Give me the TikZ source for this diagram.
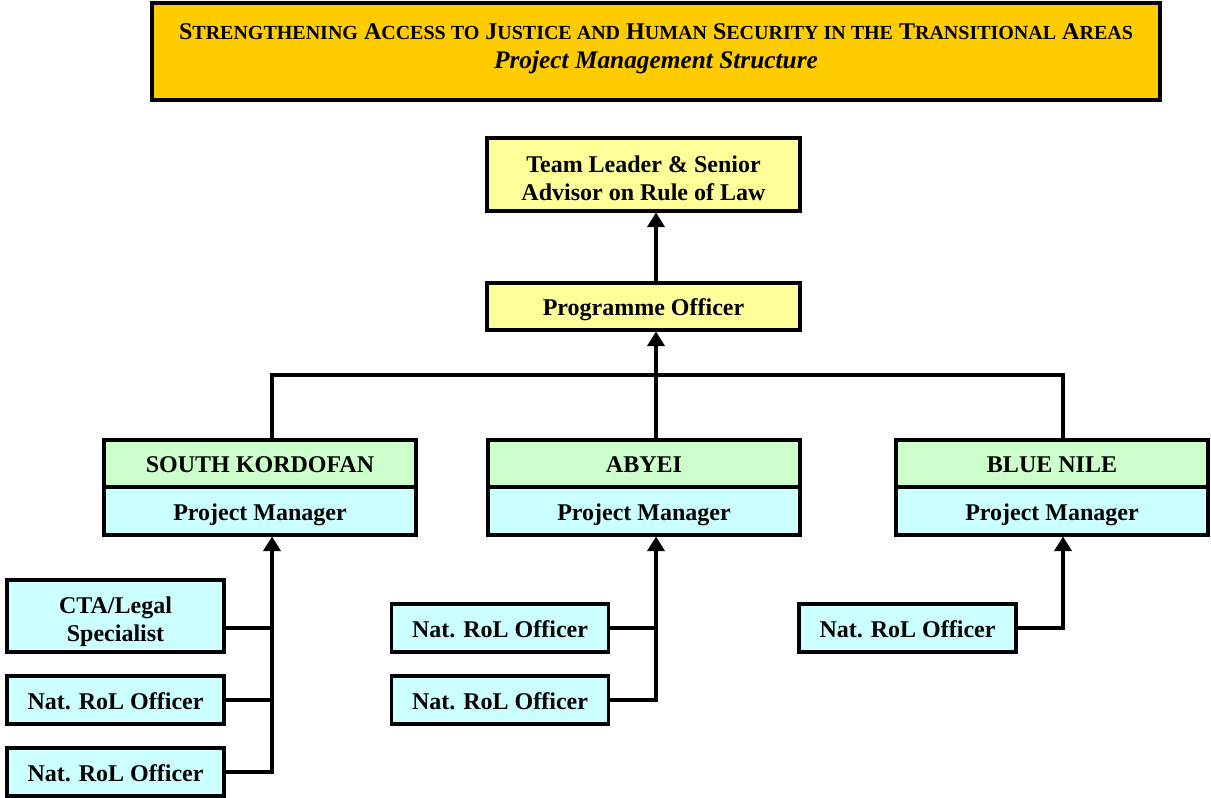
\documentclass[tikz,border=0pt]{standalone}
\usepackage{fontspec}
\setmainfont{Liberation Serif}
\usetikzlibrary{arrows.meta}

\definecolor{titlegold}{HTML}{FFCC00}
\definecolor{paleyellow}{HTML}{FFFF99}
\definecolor{palegreen}{HTML}{CCFFCC}
\definecolor{palecyan}{HTML}{CCFFFF}

\newcommand\fakesc[2]{#1{\fontsize{15}{22}\selectfont #2}}

\tikzset{every picture/.style={line width=2.3pt},
  boxbase/.style={draw, rectangle, inner sep=0pt, align=center,
    font=\fontsize{18}{21}\selectfont\bfseries},
  oneline/.style={text height=15pt, text depth=0.8pt},
  titlebox/.style={boxbase, fill=titlegold, minimum width=756pt, minimum height=72.75pt},
  yellowbox/.style={boxbase, fill=paleyellow, minimum width=234.75pt},
  greenbox/.style={boxbase, oneline, fill=palegreen, minimum width=234pt, minimum height=35.25pt},
  cyanbox/.style={boxbase, fill=palecyan},
  pmbox/.style={cyanbox, oneline, minimum width=234pt, minimum height=36pt},
  staffbox/.style={cyanbox, minimum width=162.75pt, minimum height=36pt},
  uparrow/.style={-{Triangle[width=13pt,length=11pt]}}}

\begin{document}
\begin{tikzpicture}[x=0.75pt,y=0.75pt,yscale=-1,xscale=1]
\useasboundingbox (0,0) rectangle (1211,798);

% title
\node[titlebox] (title) at (656,51.5) {};
\node[align=center, font=\fontsize{18}{22}\selectfont\bfseries] (titletext) at (656,48.5)
  {\fakesc{S}{TRENGTHENING} \fakesc{A}{CCESS TO} \fakesc{J}{USTICE AND} \fakesc{H}{UMAN} \fakesc{S}{ECURITY IN THE} \fakesc{T}{RANSITIONAL} \fakesc{A}{REAS}\\
   \fontsize{19}{22}\selectfont\itshape Project Management Structure};

% top of the structure
\node[yellowbox, minimum height=54.75pt] (leader) at (643.5,174.5) {\rule{0pt}{18.5pt}Team Leader \& Senior\\Advisor on Rule of Law};
\node[yellowbox, oneline, minimum height=35.25pt] (progofficer) at (643.5,306.5) {Programme Officer};

% areas
\node[greenbox] (kordofan) at (260,463.5) {SOUTH KORDOFAN};
\node[pmbox] (kordofanpm) at (260,511) {Project Manager};
\node[greenbox] (abyei) at (644,463.5) {ABYEI};
\node[pmbox] (abyeipm) at (644,511) {Project Manager};
\node[greenbox] (bluenile) at (1052,463.5) {BLUE NILE};
\node[pmbox] (bluenilepm) at (1052,511) {Project Manager};

% staff
\node[staffbox, minimum height=54pt] (legal) at (115.5,616) {\rule{0pt}{20.5pt}CTA/Legal\\Specialist};
\node[staffbox, oneline] (kordofanrol1) at (115.5,700) {Nat. RoL Officer};
\node[staffbox, oneline] (kordofanrol2) at (115.5,772) {Nat. RoL Officer};
\node[staffbox, oneline] (abyeirol1) at (500,628) {Nat. RoL Officer};
\node[staffbox, oneline] (abyeirol2) at (500,700) {Nat. RoL Officer};
\node[staffbox, oneline] (bluenilerol) at (907.5,628) {Nat. RoL Officer};

% bus lines
\coordinate (busS) at (272,375);
\coordinate (busA) at (656,375);
\coordinate (busB) at (1063,375);
\coordinate (legalout) at ([yshift=9pt]legal.east);

% connections
\draw[uparrow] (busA |- progofficer.north) -- (busA |- leader.south);
\draw[uparrow] (busA |- abyei.north) -- (busA |- progofficer.south);
\draw (busS |- kordofan.north) -- (busS) -- (busB) -- (busB |- bluenile.north);

\draw[uparrow] (kordofanrol2.east) -| (busS |- kordofanpm.south);
\draw (legalout) -- (busS |- legalout);
\draw (kordofanrol1.east) -- (busS |- kordofanrol1.east);

\draw[uparrow] (abyeirol2.east) -| (busA |- abyeipm.south);
\draw (abyeirol1.east) -- (busA |- abyeirol1.east);

\draw[uparrow] (bluenilerol.east) -| (busB |- bluenilepm.south);

\end{tikzpicture}
\end{document}
